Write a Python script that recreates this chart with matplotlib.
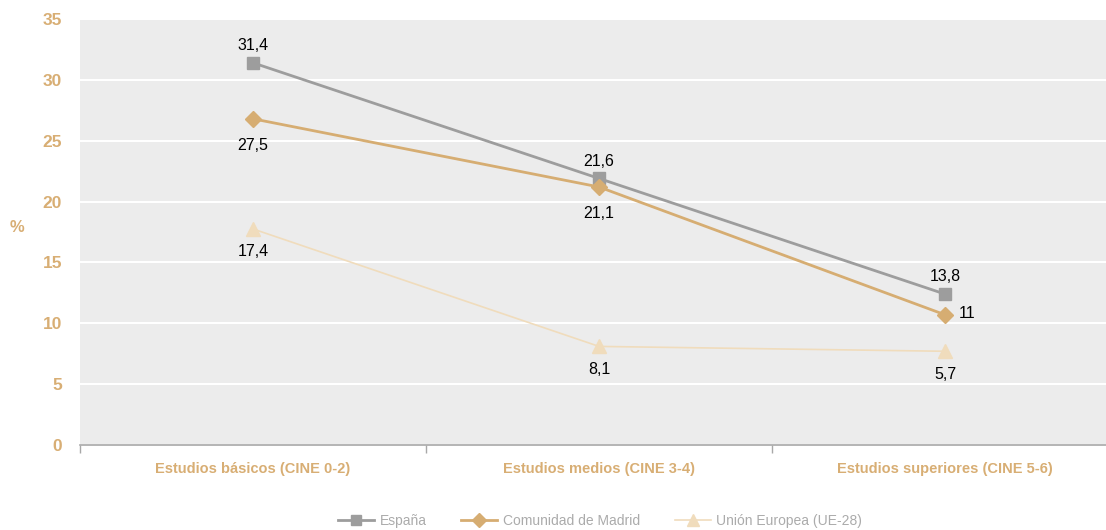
import matplotlib.pyplot as plt

plt.rcParams['font.family'] = ['Liberation Sans', 'DejaVu Sans']

categories = ["Estudios básicos (CINE 0-2)", "Estudios medios (CINE 3-4)",
              "Estudios superiores (CINE 5-6)"]
series_names = ["España", "Comunidad de Madrid", "Unión Europea (UE-28)"]

# plotted positions as drawn in the picture
espana = [31.4, 21.9, 12.4]
madrid = [26.8, 21.2, 10.7]
ue28 = [17.75, 8.1, 7.7]

# printed labels
espana_lbl = ["31,4", "21,6", "13,8"]
madrid_lbl = ["27,5", "21,1", "11"]
ue28_lbl = ["17,4", "8,1", "5,7"]

yticks = [0, 5, 10, 15, 20, 25, 30, 35]

TAN = "#d8ae74"
GREY = "#9d9d9d"
MADRID = "#d6ad72"
UE = "#f0dcbc"

fig = plt.figure(figsize=(11.06, 5.30), dpi=100)
ax = fig.add_axes([80 / 1106, 1 - 445 / 530, 1038 / 1106, 426 / 530])
ax.set_facecolor("#ececec")

x = list(range(len(categories)))
ax.plot(x, espana, color=GREY, lw=2, marker="s", ms=9, label=series_names[0], zorder=4)
ax.plot(x, madrid, color=MADRID, lw=2, marker="D", ms=8, label=series_names[1], zorder=4)
ax.plot(x, ue28, color=UE, lw=1.2, marker="^", ms=10, label=series_names[2], zorder=3)

# data labels
for i in x:
    ax.annotate(espana_lbl[i], (i, espana[i]), xytext=(0, 7), textcoords="offset points",
                ha="center", va="bottom", fontsize=11.5)
    if i < 2:
        ax.annotate(madrid_lbl[i], (i, madrid[i]), xytext=(0, -14), textcoords="offset points",
                    ha="center", va="top", fontsize=11.5)
    else:
        ax.annotate(madrid_lbl[i], (i, madrid[i]), xytext=(10, 1), textcoords="offset points",
                    ha="left", va="center", fontsize=11.5)
    ax.annotate(ue28_lbl[i], (i, ue28[i]), xytext=(0, -11), textcoords="offset points",
                ha="center", va="top", fontsize=11.5)

ax.set_xlim(-0.5, 2.5)
ax.set_ylim(0, 35)
ax.set_yticks(yticks)
ax.set_yticklabels([str(t) for t in yticks], color=TAN, fontweight="bold", fontsize=12.5)
ax.tick_params(axis="y", length=0, pad=13)
ax.set_xticks(x)
ax.set_xticklabels(categories, color=TAN, fontweight="bold", fontsize=10.5)
ax.tick_params(axis="x", which="major", length=0, pad=12)
ax.set_xticks([-0.5, 0.5, 1.5, 2.5], minor=True)
ax.tick_params(axis="x", which="minor", length=6, color="#a8a8a8", width=1)

ax.grid(axis="y", color="white", lw=1.5)
ax.set_axisbelow(True)
for s in ["top", "right", "left"]:
    ax.spines[s].set_visible(False)
ax.spines["bottom"].set_color("#a8a8a8")
ax.spines["bottom"].set_linewidth(1.2)

fig.text(17 / 1106, 1 - 227 / 530, "%", color=TAN, fontweight="bold", fontsize=12,
         ha="center", va="center")

leg = fig.legend(loc="center", bbox_to_anchor=(600 / 1106, 1 - 521 / 530), ncol=3,
                 frameon=False, fontsize=10, handlelength=2.6, columnspacing=2.5,
                 handletextpad=0.4, markerscale=0.85)
for t in leg.get_texts():
    t.set_color("#ababab")

fig.savefig("out.png", dpi=100)
